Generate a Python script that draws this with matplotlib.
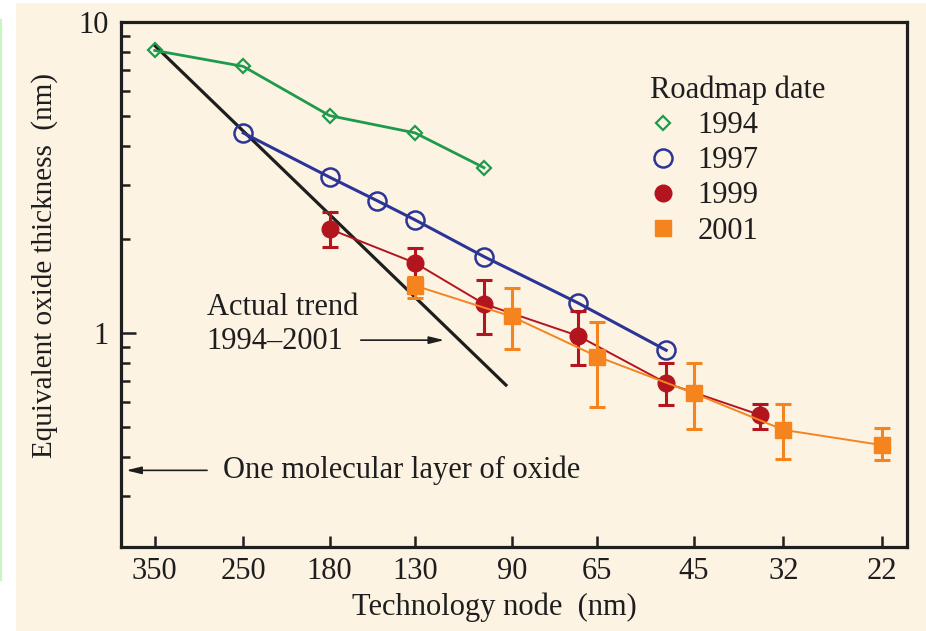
import numpy as np
import matplotlib
matplotlib.use("Agg")
import matplotlib.pyplot as plt
from matplotlib.patches import Rectangle
from matplotlib.lines import Line2D
from matplotlib.ticker import FixedLocator, NullLocator, FuncFormatter, LogLocator, NullFormatter

plt.rcParams['font.family'] = ['Liberation Serif', 'DejaVu Serif']

# technology nodes shown on the x axis (nm)
nodes = [350, 250, 180, 130, 90, 65, 45, 32, 22]

# roadmap 1994
node_1994 = [350, 250, 180, 130, 100]
eot_1994 = [8.1, 7.2, 5.0, 4.4, 3.4]

# roadmap 1997
node_1997 = [250, 180, 150, 130, 100, 70, 50]
eot_1997 = [4.4, 3.17, 2.66, 2.31, 1.76, 1.25, 0.88]

# roadmap 1999 (with ranges)
node_1999 = [180, 130, 100, 70, 50, 35]
eot_1999 = [2.16, 1.68, 1.24, 0.98, 0.69, 0.545]
lo_1999 = [1.89, 1.50, 0.99, 0.79, 0.587, 0.49]
hi_1999 = [2.45, 1.88, 1.48, 1.18, 0.80, 0.59]

# roadmap 2001 (with ranges)
node_2001 = [130, 90, 65, 45, 32, 22]
eot_2001 = [1.42, 1.13, 0.84, 0.64, 0.488, 0.436]
lo_2001 = [1.30, 0.89, 0.58, 0.49, 0.394, 0.39]
hi_2001 = [1.51, 1.40, 1.085, 0.80, 0.59, 0.495]

# actual trend 1994-2001
trend_node = [350, 92]
trend_eot = [8.4, 0.68]

green = '#1f9a4c'
blue = '#2b3596'
red = '#b3151f'
orange = '#f5841f'
cream = '#fdf3e3'
ink = '#1e1e1e'
fs = 22

fig = plt.figure(figsize=(9.26, 6.31), dpi=100)
fig.patch.set_facecolor('white')
fig.patches.append(Rectangle((16 / 926, 0), 1, 1 - 3 / 631, transform=fig.transFigure,
                             facecolor=cream, edgecolor='none', zorder=-10))
fig.lines.append(Line2D([0.0008, 0.0008], [1 - 580 / 631, 1 - 20 / 631], transform=fig.transFigure,
                        color='#c8f5c0', lw=1.5))

ax = fig.add_axes([121 / 926, 84 / 631, 786 / 926, 525 / 631])
ax.set_facecolor(cream)

ax.plot(trend_node, trend_eot, color=ink, lw=2.3, zorder=2)

ax.plot(node_1994, eot_1994, color=green, lw=2, marker='D', ms=7, mfc='none', mew=1.6, zorder=3)
ax.plot(node_1997, eot_1997, color=blue, lw=2.2, marker='o', ms=13, mfc='none', mew=1.8, zorder=3)

e99 = np.array(eot_1999)
ax.errorbar(node_1999, eot_1999, yerr=[e99 - np.array(lo_1999), np.array(hi_1999) - e99],
            color=red, lw=1.4, marker='o', ms=12, elinewidth=2.2, capsize=5.5, capthick=2.2, zorder=4)
e01 = np.array(eot_2001)
ax.errorbar(node_2001, eot_2001, yerr=[e01 - np.array(lo_2001), np.array(hi_2001) - e01],
            color=orange, lw=1.4, marker='s', ms=12, elinewidth=2.2, capsize=5.5, capthick=2.2, zorder=5)

ax.set_xscale('log')
ax.set_yscale('log')
ax.set_xlim(398, 20)
ax.set_ylim(0.205, 10)

ax.xaxis.set_major_locator(FixedLocator(nodes))
ax.xaxis.set_major_formatter(FuncFormatter(lambda v, p: '%d' % round(v)))
ax.xaxis.set_minor_locator(NullLocator())
ax.yaxis.set_major_locator(FixedLocator([1, 10]))
ax.yaxis.set_major_formatter(FuncFormatter(lambda v, p: '%d' % round(v)))
ax.yaxis.set_minor_locator(LogLocator(base=10, subs=np.arange(2, 10)))
ax.yaxis.set_minor_formatter(NullFormatter())

ax.tick_params(axis='both', which='both', direction='in', colors=ink, labelsize=fs,
               top=False, right=False)
ax.tick_params(axis='x', which='major', length=8, width=1.8, pad=7)
ax.tick_params(axis='y', which='major', length=11, width=1.8, pad=9)
ax.tick_params(axis='y', which='minor', length=6.5, width=1.8)
for s in ax.spines.values():
    s.set_linewidth(2.3)
    s.set_color(ink)

fig.text(45 / 926, 1 - 266 / 631, 'Equivalent oxide thickness  (nm)', rotation=90,
         ha='center', va='center', fontsize=21, color=ink)
fig.text(494 / 926, 1 - 607 / 631, 'Technology node  (nm)', ha='center', va='center',
         fontsize=fs, color=ink)

# annotations
ax.text(0.109, 0.457, 'Actual trend', transform=ax.transAxes, ha='left', va='center',
        fontsize=fs, color=ink)
ax.text(0.109, 0.392, '1994\u20132001', transform=ax.transAxes, ha='left', va='center',
        fontsize=fs, color=ink)
ax.annotate('', xy=(0.4148, 0.394), xytext=(0.3015, 0.394), xycoords='axes fraction',
            arrowprops=dict(arrowstyle='-|>,head_length=0.9,head_width=0.22', color=ink, lw=1.2))
ax.text(0.1298, 0.147, 'One molecular layer of oxide', transform=ax.transAxes, ha='left',
        va='center', fontsize=fs, color=ink)
ax.annotate('', xy=(0.003, 0.146), xytext=(0.113, 0.146), xycoords='axes fraction',
            arrowprops=dict(arrowstyle='-|>,head_length=0.9,head_width=0.22', color=ink, lw=1.2))

handles = [
    Line2D([], [], ls='none', marker='D', ms=7, mfc='none', mec=green, mew=1.6),
    Line2D([], [], ls='none', marker='o', ms=13, mfc='none', mec=blue, mew=1.8),
    Line2D([], [], ls='none', marker='o', ms=12, color=red),
    Line2D([], [], ls='none', marker='s', ms=12, color=orange),
]
leg = ax.legend(handles, ['1994', '1997', '1999', '2001'], title='Roadmap date',
                loc='upper left', bbox_to_anchor=(0.653, 0.927), frameon=False,
                fontsize=fs, title_fontsize=fs, borderpad=0, handlelength=0.85,
                handletextpad=0.72, labelspacing=0.2, alignment='left')
for t in leg.get_texts():
    t.set_color(ink)
leg.get_title().set_color(ink)

fig.savefig('out.png', dpi=100, facecolor=fig.get_facecolor())
